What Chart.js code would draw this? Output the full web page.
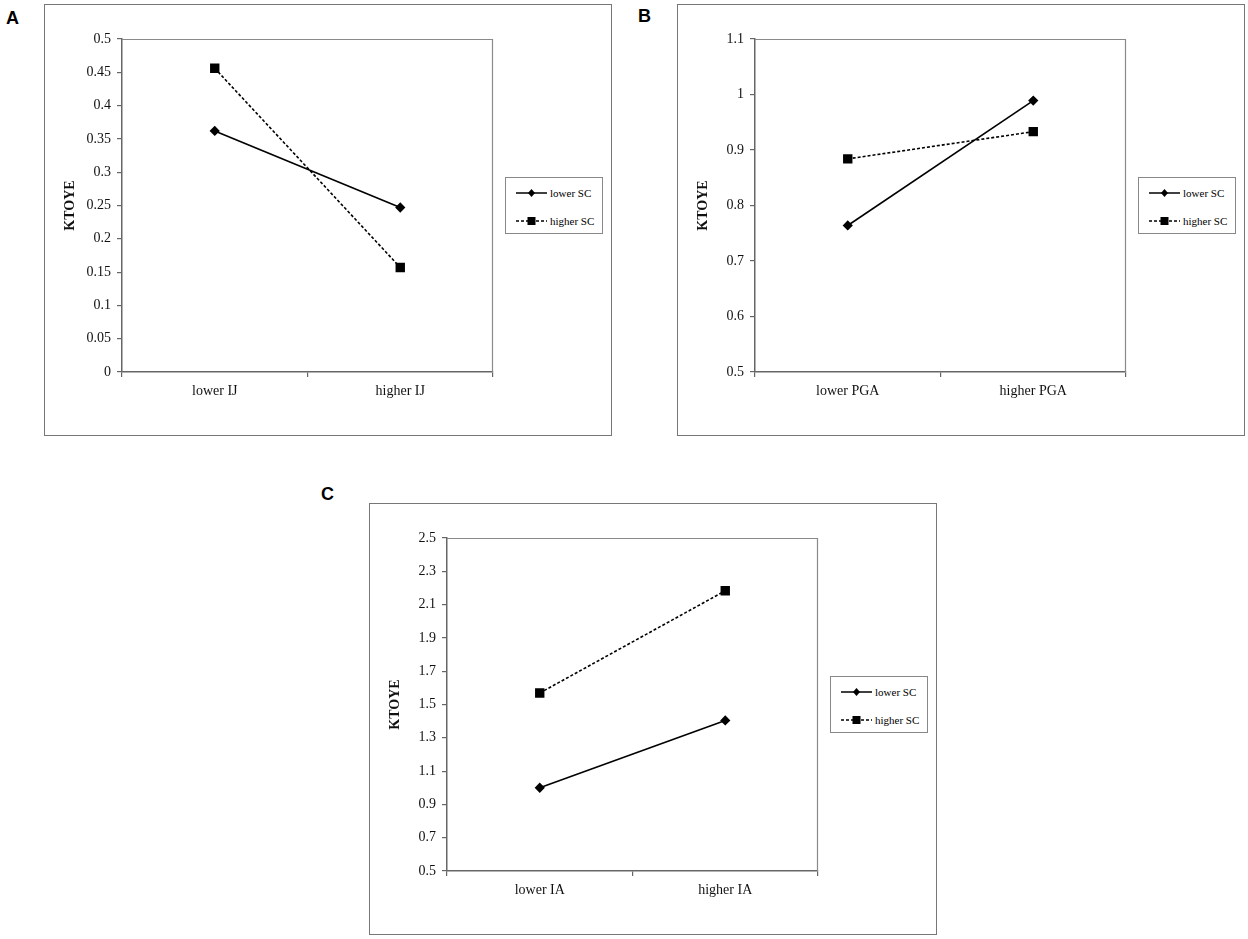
<!DOCTYPE html>
<html>
<head>
<meta charset="utf-8">
<script src="https://cdn.jsdelivr.net/npm/chart.js@4"></script>
<style>
  body { margin: 0; background: #fff; width: 1248px; height: 939px; position: relative; overflow: hidden; }
  .panel { position: absolute; width: 568px; height: 432px; box-sizing: border-box; border: 1.5px solid #777; }
  .panel canvas { position: absolute; left: -1.5px; top: -1.5px; }
  .letter { position: absolute; font: bold 18px "Liberation Sans", Arial, sans-serif; line-height: 18px; color: #000; }
  .legend { position: absolute; left: 460px; top: 172px; width: 98px; height: 57px; box-sizing: border-box;
            border: 1px solid #888; background: #fff; font: 11px "Liberation Serif", "Times New Roman", serif; color: #000; }
  .legend .row { position: absolute; left: 10px; height: 14px; display: flex; align-items: center; }
  .legend svg { margin-right: 3px; }
</style>
</head>
<body>
<div class="letter" style="left:6px;top:9px;">A</div>
<div class="letter" style="left:638px;top:7px;">B</div>
<div class="letter" style="left:321px;top:485px;">C</div>

<div class="panel" id="pA" style="left:44px;top:4px;"><canvas id="chartA" width="568" height="432"></canvas></div>
<div class="panel" id="pB" style="left:677px;top:4px;"><canvas id="chartB" width="568" height="432"></canvas></div>
<div class="panel" id="pC" style="left:369px;top:503px;"><canvas id="chartC" width="568" height="432"></canvas></div>

<script>
// series names shared by all three panels
const seriesNames = ['lower SC', 'higher SC'];

// Panel A
const catsA = ['lower IJ', 'higher IJ'];
const lowA = [0.362, 0.247];
const highA = [0.456, 0.157];
const ticksA = [0, 0.05, 0.1, 0.15, 0.2, 0.25, 0.3, 0.35, 0.4, 0.45, 0.5];

// Panel B
const catsB = ['lower PGA', 'higher PGA'];
const lowB = [0.764, 0.989];
const highB = [0.884, 0.933];
const ticksB = [0.5, 0.6, 0.7, 0.8, 0.9, 1, 1.1];

// Panel C
const catsC = ['lower IA', 'higher IA'];
const lowC = [1.0, 1.404];
const highC = [1.569, 2.183];
const ticksC = [0.5, 0.7, 0.9, 1.1, 1.3, 1.5, 1.7, 1.9, 2.1, 2.3, 2.5];

const serif = '"Liberation Serif", "Times New Roman", serif';

// gray frame on the top and right of the plot area (Excel style)
const plotFrame = {
  id: 'plotFrame',
  afterDraw(chart) {
    const a = chart.chartArea, c = chart.ctx;
    c.save();
    c.strokeStyle = '#8a8a8a';
    c.lineWidth = 1.2;
    c.beginPath();
    c.moveTo(a.left, a.top + 0.5);
    c.lineTo(a.right - 0.5, a.top + 0.5);
    c.lineTo(a.right - 0.5, a.bottom);
    c.stroke();
    c.restore();
  }
};

function makeChart(id, cats, low, high, yTicks) {
  new Chart(document.getElementById(id), {
    type: 'line',
    data: {
      labels: cats,
      datasets: [{
        label: seriesNames[0],
        data: low,
        borderColor: '#000',
        backgroundColor: '#000',
        borderWidth: 1.6,
        pointStyle: 'rectRot',
        pointRadius: 4,
        tension: 0
      }, {
        label: seriesNames[1],
        data: high,
        borderColor: '#000',
        backgroundColor: '#000',
        borderWidth: 1.6,
        borderDash: [3, 2],
        pointStyle: 'rect',
        pointRadius: 5.5,
        tension: 0
      }]
    },
    options: {
      responsive: false,
      animation: false,
      devicePixelRatio: 1,
      layout: { padding: { left: 14, top: 35, right: 119, bottom: 0 } },
      plugins: { legend: { display: false }, tooltip: { enabled: false } },
      scales: {
        x: {
          offset: true,
          grid: { offset: true, drawOnChartArea: false, tickLength: 5, color: '#666', lineWidth: 1.2 },
          border: { color: '#666', width: 1.5 },
          ticks: { color: '#111', padding: 6, font: { family: serif, size: 14 } },
          afterFit(s) { s.height = 64; }
        },
        y: {
          min: yTicks[0],
          max: yTicks[yTicks.length - 1],
          afterBuildTicks(s) { s.ticks = yTicks.map(v => ({ value: v })); },
          grid: { drawOnChartArea: false, tickLength: 5, color: '#666', lineWidth: 1.2 },
          border: { color: '#666', width: 1.5 },
          ticks: {
            color: '#111', padding: 6, font: { family: serif, size: 14 },
            callback: v => String(+Number(v).toFixed(2))
          },
          title: { display: true, text: 'KTOYE', color: '#111', font: { family: serif, size: 14, weight: 'bold' } },
          afterFit(s) { s.width = 64; }
        }
      }
    },
    plugins: [plotFrame]
  });
}

function addLegend(panelId) {
  const lg = document.createElement('div');
  lg.className = 'legend';
  const marks = [
    '<svg width="31" height="12"><line x1="0" y1="6" x2="31" y2="6" stroke="#000" stroke-width="1.5"/><polygon points="15.5,2 19,6 15.5,10 12,6" fill="#000"/></svg>',
    '<svg width="31" height="12"><line x1="0" y1="6" x2="31" y2="6" stroke="#000" stroke-width="1.5" stroke-dasharray="3,2"/><rect x="11.5" y="2" width="8" height="8" fill="#000"/></svg>'
  ];
  seriesNames.forEach((n, i) => {
    const r = document.createElement('div');
    r.className = 'row';
    r.style.top = (i === 0 ? 8 : 36) + 'px';
    r.innerHTML = marks[i] + '<span>' + n + '</span>';
    lg.appendChild(r);
  });
  document.getElementById(panelId).appendChild(lg);
}

makeChart('chartA', catsA, lowA, highA, ticksA);
makeChart('chartB', catsB, lowB, highB, ticksB);
makeChart('chartC', catsC, lowC, highC, ticksC);
['pA', 'pB', 'pC'].forEach(addLegend);
</script>
</body>
</html>
